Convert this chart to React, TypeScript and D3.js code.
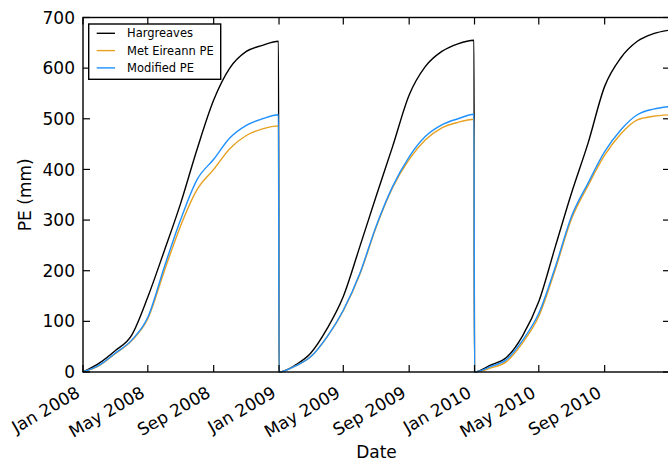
import React from 'react';
import * as d3 from 'd3';

// first of each month, last day of each year, then a reset to zero on Jan 1
const dates = [
  '2008-01-01', '2008-02-01', '2008-03-01', '2008-04-01', '2008-05-01', '2008-06-01', '2008-07-01',
  '2008-08-01', '2008-09-01', '2008-10-01', '2008-11-01', '2008-12-01', '2008-12-31',
  '2009-01-01', '2009-02-01', '2009-03-01', '2009-04-01', '2009-05-01', '2009-06-01', '2009-07-01',
  '2009-08-01', '2009-09-01', '2009-10-01', '2009-11-01', '2009-12-01', '2009-12-31',
  '2010-01-01', '2010-02-01', '2010-03-01', '2010-04-01', '2010-05-01', '2010-06-01', '2010-07-01',
  '2010-08-01', '2010-09-01', '2010-10-01', '2010-11-01', '2010-12-01', '2010-12-31',
];

const hargreaves = [
  0, 18, 42, 73, 148, 240, 332, 440, 537, 600, 633, 645, 653,
  0, 14, 37, 86, 149, 248, 346, 445, 547, 603, 633, 648, 655,
  0, 14, 28, 72, 139, 248, 353, 452, 564, 620, 653, 668, 675,
];
const metEireann = [
  0, 13, 36, 62, 105, 200, 288, 360, 400, 441, 467, 480, 486,
  0, 12, 30, 70, 121, 193, 285, 364, 420, 458, 482, 493, 499,
  0, 8, 20, 58, 110, 203, 302, 368, 428, 470, 498, 505, 508,
];
const modifiedPE = [
  0, 14, 37, 63, 108, 208, 300, 380, 420, 462, 487, 500, 508,
  0, 12, 30, 70, 122, 195, 287, 366, 425, 465, 488, 500, 509,
  0, 11, 24, 63, 116, 208, 307, 373, 435, 478, 508, 519, 524,
];

const seriesNames = ['Hargreaves', 'Met Eireann PE', 'Modified PE'];
const seriesColors = ['#000000', '#e6a122', '#1e90ff'];
const yTicks = [0, 100, 200, 300, 400, 500, 600, 700];

const W = 668, H = 464;
const left = 83, right = 670, top = 17.5, bottom = 372;
const font = 'DejaVu Sans, sans-serif';
const fs = 17;

const App = () => {
  const parse = d3.timeParse('%Y-%m-%d');
  const xs = dates.map(d => parse(d) as Date);
  const x = d3.scaleTime().domain([parse('2008-01-01') as Date, parse('2011-01-01') as Date]).range([left, right]);
  const y = d3.scaleLinear().domain([0, 700]).range([bottom, top]);
  const xTicks = d3.timeMonth.every(4)!.range(parse('2008-01-01') as Date, parse('2011-01-01') as Date);
  const fmt = d3.timeFormat('%b %Y');

  const line = d3.line<number>()
    .x((_, i) => x(xs[i]))
    .y(d => y(d))
    .curve(d3.curveMonotoneX);

  const series = [hargreaves, metEireann, modifiedPE];
  const tickLen = 7;

  return (
    <svg width={W} height={H} style={{ position: 'absolute', left: 0, top: 0 }} fontFamily={font}>
      <rect x={0} y={0} width={W} height={H} fill='#fff' />
      {series.map((s, i) => (
        <path key={i} d={line(s) || ''} fill='none' stroke={seriesColors[i]} strokeWidth={1.4} />
      ))}
      {/* ticks, inward on all four sides */}
      {xTicks.map((t, i) => (
        <g key={i}>
          <line x1={x(t)} x2={x(t)} y1={bottom} y2={bottom - tickLen} stroke='#000' strokeWidth={1.2} />
          <line x1={x(t)} x2={x(t)} y1={top} y2={top + tickLen} stroke='#000' strokeWidth={1.2} />
          <text transform={`translate(${x(t) - 2},${bottom + 24}) rotate(-30)`} textAnchor='end' fontSize={fs}>
            {fmt(t)}
          </text>
        </g>
      ))}
      {yTicks.map((v, i) => (
        <g key={i}>
          <line x1={left} x2={left + tickLen} y1={y(v)} y2={y(v)} stroke='#000' strokeWidth={1.2} />
          <line x1={right} x2={right - tickLen} y1={y(v)} y2={y(v)} stroke='#000' strokeWidth={1.2} />
          <text x={left - 8} y={y(v)} dy='0.36em' textAnchor='end' fontSize={fs}>{v}</text>
        </g>
      ))}
      <rect x={left} y={top} width={right - left} height={bottom - top} fill='none' stroke='#000' strokeWidth={1.4} />
      <text x={(left + right) / 2} y={458} textAnchor='middle' fontSize={fs}>Date</text>
      <text transform={`translate(31,${(top + bottom) / 2}) rotate(-90)`} textAnchor='middle' fontSize={fs}>PE (mm)</text>
      {/* legend */}
      <rect x={88.7} y={24} width={132} height={55.3} fill='#fff' stroke='#000' strokeWidth={1.4} />
      {seriesNames.map((n, i) => (
        <g key={n}>
          <line x1={96.7} x2={115} y1={33.3 + i * 17.3} y2={33.3 + i * 17.3} stroke={seriesColors[i]} strokeWidth={1.4} />
          <text x={127} y={33.3 + i * 17.3} dy='0.36em' fontSize={11.5}>{n}</text>
        </g>
      ))}
    </svg>
  );
};

export default App;
